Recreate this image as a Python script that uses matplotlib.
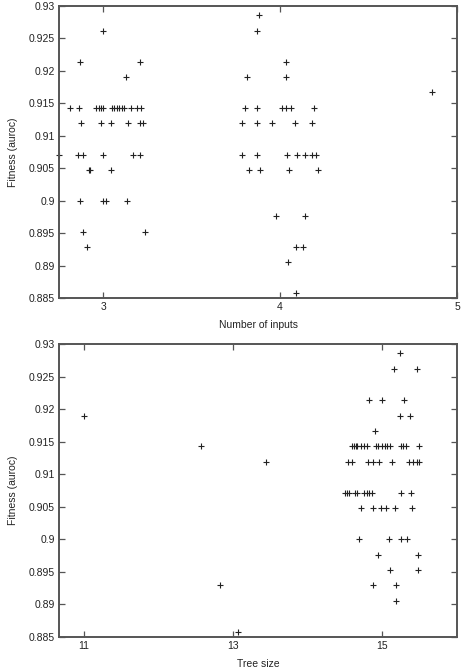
import matplotlib
matplotlib.use("Agg")
import matplotlib.pyplot as plt

plt.rcParams['font.family'] = ['Liberation Sans', 'DejaVu Sans']

# ---- Panel 1: Number of inputs vs fitness ----
inputs_x = [
    3.00,
    2.867, 3.206,
    3.129,
    2.814, 2.861, 2.959, 2.974, 2.987, 2.996, 3.048, 3.062, 3.076, 3.091, 3.106, 3.120, 3.158, 3.193, 3.213,
    2.874, 2.989, 3.044, 3.138, 3.210, 3.223,
    2.752, 2.856, 2.883, 3.000, 3.166, 3.210,
    2.922, 2.928, 3.044,
    2.869, 2.999, 3.016, 3.133,
    2.888, 3.239,
    2.911,
    3.880,
    3.867,
    4.032,
    3.810, 4.032,
    4.859,
    3.799, 3.870, 4.010, 4.034, 4.061, 4.192,
    3.786, 3.869, 3.955, 4.085, 4.178,
    3.786, 3.869, 4.040, 4.095, 4.138, 4.181, 4.204,
    3.823, 3.887, 4.049, 4.212,
    3.976, 4.140,
    4.089, 4.130,
    4.046,
    4.091,
]
inputs_fit = [
    0.9262,
    0.9214, 0.9214,
    0.9190,
    0.9143, 0.9143, 0.9143, 0.9143, 0.9143, 0.9143, 0.9143, 0.9143, 0.9143, 0.9143, 0.9143, 0.9143, 0.9143, 0.9143, 0.9143,
    0.9119, 0.9119, 0.9119, 0.9119, 0.9119, 0.9119,
    0.9071, 0.9071, 0.9071, 0.9071, 0.9071, 0.9071,
    0.9048, 0.9048, 0.9048,
    0.9000, 0.9000, 0.9000, 0.9000,
    0.8952, 0.8952,
    0.8929,
    0.9286,
    0.9262,
    0.9214,
    0.9190, 0.9190,
    0.9167,
    0.9143, 0.9143, 0.9143, 0.9143, 0.9143, 0.9143,
    0.9119, 0.9119, 0.9119, 0.9119, 0.9119,
    0.9071, 0.9071, 0.9071, 0.9071, 0.9071, 0.9071, 0.9071,
    0.9048, 0.9048, 0.9048, 0.9048,
    0.8976, 0.8976,
    0.8929, 0.8929,
    0.8905,
    0.8857,
]

# ---- Panel 2: Tree size vs fitness ----
tree_x = [
    11.00, 12.57, 13.439, 12.828, 13.07,
    15.232,
    15.156, 15.464,
    14.821, 15.000, 15.285,
    15.236, 15.366,
    14.901,
    14.590, 14.623, 14.645, 14.655, 14.710, 14.750, 14.797, 14.911, 14.942, 14.998, 15.031,
    15.065, 15.098, 15.245, 15.281, 15.312, 15.486,
    14.543, 14.590, 14.813, 14.880, 14.954, 15.128, 15.355, 15.406, 15.459, 15.486,
    14.503, 14.530, 14.556, 14.630, 14.663, 14.757, 14.790, 14.824, 14.861, 15.255, 15.383,
    14.713, 14.871, 14.984, 15.047, 15.172, 15.392,
    14.683, 15.094, 15.245, 15.325,
    14.947, 15.473,
    15.102, 15.482,
    14.875, 15.182,
    15.182,
]
tree_fit = [
    0.9190, 0.9143, 0.9119, 0.8929, 0.8857,
    0.9286,
    0.9262, 0.9262,
    0.9214, 0.9214, 0.9214,
    0.9190, 0.9190,
    0.9167,
    0.9143, 0.9143, 0.9143, 0.9143, 0.9143, 0.9143, 0.9143, 0.9143, 0.9143, 0.9143, 0.9143,
    0.9143, 0.9143, 0.9143, 0.9143, 0.9143, 0.9143,
    0.9119, 0.9119, 0.9119, 0.9119, 0.9119, 0.9119, 0.9119, 0.9119, 0.9119, 0.9119,
    0.9071, 0.9071, 0.9071, 0.9071, 0.9071, 0.9071, 0.9071, 0.9071, 0.9071, 0.9071, 0.9071,
    0.9048, 0.9048, 0.9048, 0.9048, 0.9048, 0.9048,
    0.9000, 0.9000, 0.9000, 0.9000,
    0.8976, 0.8976,
    0.8952, 0.8952,
    0.8929, 0.8929,
    0.8905,
]

y_ticks = [0.885, 0.89, 0.895, 0.9, 0.905, 0.91, 0.915, 0.92, 0.925, 0.93]
y_labels = ["0.885", "0.89", "0.895", "0.9", "0.905", "0.91", "0.915", "0.92", "0.925", "0.93"]
top_xticks = [3, 4, 5]
bot_xticks = [11, 13, 15]

fig = plt.figure(figsize=(4.62, 6.68), dpi=100)
ax1 = fig.add_axes([0.1277, 0.5539, 0.8615, 0.4371])
ax2 = fig.add_axes([0.1277, 0.0469, 0.8615, 0.4377])

spine_col = "#555555"
for ax, xs, ys, xt, xlim, xlabel in [
    (ax1, inputs_x, inputs_fit, top_xticks, (2.75, 5.0), "Number of inputs"),
    (ax2, tree_x, tree_fit, bot_xticks, (10.67, 16.0), "Tree size"),
]:
    ax.plot(xs, ys, linestyle="none", marker="+", markersize=3.8,
            markeredgewidth=0.8, color="#222222", clip_on=False)
    ax.set_xlim(*xlim)
    ax.set_ylim(0.885, 0.93)
    ax.set_xticks(xt)
    ax.set_xticklabels([str(t) for t in xt])
    ax.set_yticks(y_ticks)
    ax.set_yticklabels(y_labels)
    ax.tick_params(direction="in", length=4, width=0.9, color=spine_col,
                   top=True, right=True, labelsize=7.5, pad=3, labelcolor="#222222")
    for s in ax.spines.values():
        s.set_color(spine_col)
        s.set_linewidth(1.4)
    ax.set_ylabel("Fitness (auroc)", fontsize=7.5, color="#222222", labelpad=8)
    ax.set_xlabel(xlabel, fontsize=7.5, color="#222222", labelpad=6)

fig.savefig("out.png", dpi=100)
